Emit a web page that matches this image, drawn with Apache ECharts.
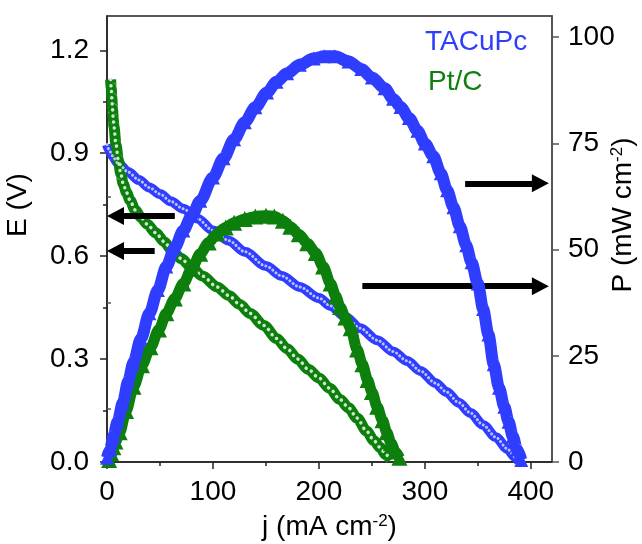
<!DOCTYPE html>
<html>
<head>
<meta charset="utf-8">
<script src="https://cdn.jsdelivr.net/npm/echarts@6/dist/echarts.min.js"></script>
<style>html,body{margin:0;padding:0;background:#fff}#c{width:642px;height:544px}</style>
</head>
<body>
<div id="c"></div>
<script>
// ---- data ----
const xTicks = [0, 100, 200, 300, 400];
const xMinorTicks = [50, 150, 250, 350];
const eTicks = [0, 0.3, 0.6, 0.9, 1.2];
const eMinorTicks = [0.15, 0.45, 0.75, 1.05];
const pTicks = [0, 25, 50, 75, 100];
const pMinorTicks = [12.5, 37.5, 62.5, 87.5];

// TACuPc polarization (j mA cm-2, E V)
const tacupcE = [[0,0.925],[2,0.91],[5,0.893],[10,0.872],[20,0.845],[30,0.822],[40,0.80],[50,0.781],[60,0.76],[72,0.738],[85,0.71],[100,0.675],[115,0.645],[130,0.613],[150,0.571],[165,0.542],[182,0.51],[200,0.478],[211,0.455],[225,0.423],[239,0.39],[255,0.355],[270,0.322],[283,0.295],[296,0.265],[310,0.23],[320,0.205],[332,0.173],[343,0.143],[355,0.108],[367,0.072],[378,0.038],[385,0.015],[389,0.0]];
// TACuPc power density (j mA cm-2, P mW cm-2)
const tacupcP = [[0,1],[3,3],[6,6],[10,9.5],[15,14],[20,19],[25,23.5],[32,29],[40,35],[48,40.5],[56,46],[64,50.5],[72,54.5],[80,58],[88,61.5],[100,67],[110,71.5],[120,76],[130,80],[140,83.5],[151,87],[160,89.5],[170,91.5],[182,93.5],[195,95],[205,95.5],[215,95.5],[228,94.3],[240,92.5],[250,90.5],[262,88],[270,85.5],[277,83.6],[285,81],[293,78],[300,75],[308,72],[315,68],[321,64],[327,60],[333,55.5],[339,51],[344,47],[350,42],[355,36],[360,30],[365,23],[370,17.5],[375,13],[379,9.5],[383,6],[387,3],[391,0.5]];
// Pt/C polarization
const ptcE = [[3.4,1.115],[4,1.09],[4.6,1.06],[5.2,1.03],[5.9,1.0],[6.6,0.977],[8.5,0.925],[10.7,0.88],[13,0.84],[15.4,0.81],[18.5,0.785],[21.7,0.763],[26.5,0.735],[32,0.713],[38,0.693],[46,0.668],[54,0.642],[61,0.618],[70,0.593],[79,0.57],[90,0.542],[104,0.51],[115,0.485],[125,0.46],[135,0.433],[148,0.398],[160,0.36],[170,0.33],[180,0.3],[190,0.27],[200,0.245],[210,0.215],[220,0.182],[228,0.158],[236,0.128],[245,0.09],[252,0.062],[258,0.042],[263,0.022],[268,0.006]];
// Pt/C power density
const ptcP = [[2,0.5],[4,2],[6,3.5],[8,4.8],[12,7],[18,12],[25,17.7],[33,22.8],[41,27],[49,31.2],[56,35],[64,38.5],[72,42],[80,45.5],[88,49],[96,51.7],[104,53.8],[112,55.2],[120,56.3],[130,57.2],[140,57.8],[150,58],[158,57.8],[166,56.8],[173,55.4],[181,53.6],[189,51.5],[197,49.2],[204,46],[211,42],[216,39],[220,36.5],[225,34],[230,31.5],[236,26.5],[241,23],[246,19.3],[250,16.5],[255,13],[260,9.8],[264,7],[268,4.5],[272,2.5],[276,1]];

// annotation arrows (data coordinates)
const arrowsE = [{y:0.717, from:64, to:8}, {y:0.615, from:45, to:8}];
const arrowsP = [{y:65.6, from:338, to:409}, {y:41.4, from:241, to:409}];

// ---- styles ----
const BLUE = '#2f3dff';
const GREEN = '#0c7f0c';
const FONT = 'Liberation Sans, Arial, sans-serif';
const AX = '#222';

const chart = echarts.init(document.getElementById('c'), null, {renderer: 'canvas'});

const supRich = {sup: {fontSize: 17, verticalAlign: 'top', fontFamily: FONT, color: '#000'}};

function arrowLine(list) {
  return {
    silent: true,
    animation: false,
    symbol: ['none', 'triangle'],
    symbolSize: [18, 17],
    label: {show: false},
    lineStyle: {color: '#000', width: 6, type: 'solid'},
    emphasis: {disabled: true},
    data: list.map(a => [{coord: [a.from, a.y]}, {coord: [a.to, a.y]}])
  };
}

const minorAxisBase = {
  axisLine: {show: false},
  axisLabel: {show: false},
  splitLine: {show: false}
};

const option = {
  animation: false,
  backgroundColor: '#fff',
  grid: {left: 107, right: 90, top: 16, bottom: 82, containLabel: false, outerBoundsMode: 'none',
         show: true, borderColor: AX, borderWidth: 1.5, backgroundColor: 'transparent'},
  legend: {
    orient: 'vertical', left: 415, top: 23, itemGap: 12,
    icon: 'none', itemWidth: 0, itemHeight: 28, selectedMode: false,
    textStyle: {fontSize: 28, fontFamily: FONT},
    data: [
      {name: 'TACuPc', textStyle: {color: BLUE}},
      {name: 'Pt/C', textStyle: {color: GREEN, padding: [0, 0, 0, 3]}}
    ]
  },
  xAxis: [{
    type: 'value', min: 0, max: 420, position: 'bottom',
    name: 'j (mA cm{sup|-2})', nameLocation: 'middle', nameGap: 51, nameMoveOverlap: false,
    nameTextStyle: {fontSize: 28, fontFamily: FONT, color: '#000', rich: supRich},
    axisLine: {show: true, onZero: false, lineStyle: {color: AX, width: 1.5}},
    axisTick: {show: true, inside: false, length: 7, customValues: xTicks, lineStyle: {color: AX, width: 1.5}},
    axisLabel: {customValues: xTicks, margin: 16, fontSize: 28, fontFamily: FONT, color: '#000'},
    splitLine: {show: false}
  }, Object.assign({
    type: 'value', min: 0, max: 420, position: 'bottom',
    axisTick: {show: true, inside: false, length: 4, customValues: xMinorTicks, lineStyle: {color: AX, width: 1.5}}
  }, minorAxisBase)],
  yAxis: [{
    type: 'value', min: 0, max: 1.3, position: 'left',
    name: 'E (V)', nameLocation: 'middle', nameGap: 75, nameRotate: 90, nameMoveOverlap: false,
    nameTextStyle: {fontSize: 28, fontFamily: FONT, color: '#000', padding: [0, 0, 0, 68]},
    axisLine: {show: true, onZero: false, lineStyle: {color: AX, width: 1.5}},
    axisTick: {show: true, inside: false, length: 7, customValues: eTicks, lineStyle: {color: AX, width: 1.5}},
    axisLabel: {customValues: eTicks, margin: 18, fontSize: 28, fontFamily: FONT, color: '#000',
                formatter: v => v.toFixed(1)},
    splitLine: {show: false}
  }, {
    type: 'value', min: 0, max: 105, position: 'right',
    name: 'P (mW cm{sup|-2})', nameLocation: 'middle', nameGap: 57, nameRotate: 90, nameMoveOverlap: false,
    nameTextStyle: {fontSize: 28, fontFamily: FONT, color: '#000', rich: supRich, padding: [0, 0, 0, 48]},
    axisLine: {show: true, onZero: false, lineStyle: {color: '#555', width: 1.5}},
    axisTick: {show: true, inside: false, length: 7, customValues: pTicks, lineStyle: {color: '#555', width: 1.5}},
    axisLabel: {customValues: pTicks, margin: 16, fontSize: 28, fontFamily: FONT, color: '#000'},
    splitLine: {show: false}
  }, Object.assign({
    type: 'value', min: 0, max: 1.3, position: 'left',
    axisTick: {show: true, inside: false, length: 4, customValues: eMinorTicks, lineStyle: {color: AX, width: 1.5}}
  }, minorAxisBase), Object.assign({
    type: 'value', min: 0, max: 105, position: 'right',
    axisTick: {show: true, inside: false, length: 4, customValues: pMinorTicks, lineStyle: {color: '#555', width: 1.5}}
  }, minorAxisBase)],
  series: [
    {name: 'TACuPc', type: 'line', xAxisIndex: 0, yAxisIndex: 0, data: tacupcE, symbol: 'none',
     smooth: 0.3, smoothMonotone: 'x', lineStyle: {color: BLUE, width: 10}, itemStyle: {color: BLUE},
     emphasis: {disabled: true}, z: 2},
    {name: 'TACuPc', type: 'line', xAxisIndex: 0, yAxisIndex: 0, data: tacupcE, symbol: 'none',
     smooth: 0.3, smoothMonotone: 'x', lineStyle: {color: '#bcc2ff', width: 3, type: [0.1, 4], cap: 'round'},
     itemStyle: {color: BLUE}, emphasis: {disabled: true}, z: 3},
    {name: 'Pt/C', type: 'line', xAxisIndex: 0, yAxisIndex: 0, data: ptcE, symbol: 'none',
     smooth: 0.3, smoothMonotone: 'x', lineStyle: {color: GREEN, width: 11}, itemStyle: {color: GREEN},
     emphasis: {disabled: true}, z: 2},
    {name: 'Pt/C', type: 'line', xAxisIndex: 0, yAxisIndex: 0, data: ptcE, symbol: 'none',
     smooth: 0.3, smoothMonotone: 'x', lineStyle: {color: '#cfe6cf', width: 3.5, type: [0.1, 6], cap: 'round'},
     itemStyle: {color: GREEN}, emphasis: {disabled: true}, z: 3},
    {name: 'Pt/C', type: 'line', xAxisIndex: 0, yAxisIndex: 1, data: ptcP, symbol: 'triangle', symbolSize: 16,
     showSymbol: true, showAllSymbol: true, smooth: 0.3, smoothMonotone: 'x',
     lineStyle: {color: GREEN, width: 11}, itemStyle: {color: GREEN}, emphasis: {disabled: true}, z: 4},
    {name: 'TACuPc', type: 'line', xAxisIndex: 0, yAxisIndex: 1, data: tacupcP, symbol: 'triangle', symbolSize: 14,
     showSymbol: true, showAllSymbol: true, smooth: 0.3, smoothMonotone: 'x',
     lineStyle: {color: BLUE, width: 12}, itemStyle: {color: BLUE}, emphasis: {disabled: true}, z: 5},
    {name: 'arrowsE', type: 'line', xAxisIndex: 0, yAxisIndex: 0, data: [], z: 10, markLine: arrowLine(arrowsE)},
    {name: 'arrowsP', type: 'line', xAxisIndex: 0, yAxisIndex: 1, data: [], z: 10, markLine: arrowLine(arrowsP)}
  ]
};
chart.setOption(option);
</script>
</body>
</html>
